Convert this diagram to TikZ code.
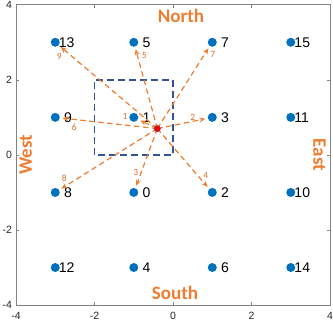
\documentclass[tikz,border=0pt]{standalone}
\usepackage{fontspec}
\setmainfont{Liberation Sans}
\newfontfamily\calib{Carlito}
\usetikzlibrary{arrows.meta}
\definecolor{mblue}{RGB}{0,114,189}
\definecolor{morange}{RGB}{237,125,49}
\definecolor{mdark}{RGB}{47,85,151}
\definecolor{axgray}{RGB}{130,130,130}
\begin{document}
\begin{tikzpicture}[x=39.25pt,y=37.54pt,
 dot/.style={circle,fill=mblue,minimum size=9pt,inner sep=0pt},
 lab/.style={anchor=west,inner sep=0pt,font=\fontsize{14}{14}\selectfont},
 arr/.style={morange,line width=1.2pt,dash pattern=on 5.5pt off 3.5pt,-{Stealth[length=6pt,width=5pt]},shorten >=2.5pt},
 alab/.style={morange!90!black,font=\calib\fontsize{9.5}{9.5}\selectfont,inner sep=0pt},
 dir/.style={morange,font=\calib\bfseries\fontsize{19}{19}\selectfont,inner sep=0pt},
 tlab/.style={font=\fontsize{10.5}{10.5}\selectfont,text=black!85,inner sep=0pt},
 frame/.style={axgray,line width=0.6pt},
 cbox/.style={mdark,line width=1.5pt,dash pattern=on 7pt off 4pt},
 rdot/.style={circle,fill=red,draw=mdark,line width=0.3pt,minimum size=6.5pt,inner sep=0pt}]
\useasboundingbox (-4.408,-4.478) rectangle (4.076,4.126);
% frame and ticks
\draw[frame] (-4,-4) rectangle (4,4);
\foreach \t in {-4,-2,0,2,4}{
  \draw[frame] (\t,-4) -- ++(0,3pt);
  \draw[frame] (\t,4) -- ++(0,-3pt);
  \draw[frame] (-4,\t) -- ++(3pt,0);
  \draw[frame] (4,\t) -- ++(-3pt,0);
  \node[tlab,anchor=north] (xt\t) at (\t,-4.19) {\t};
  \node[tlab,anchor=east] (yt\t) at (-4.10,\t) {\t};
}
% nodes
\foreach \n/\x/\y in {13/-3/3,5/-1/3,7/1/3,15/3/3,9/-3/1,1/-1/1,3/1/1,11/3/1,8/-3/-1,0/-1/-1,2/1/-1,10/3/-1,12/-3/-3,4/-1/-3,6/1/-3,14/3/-3}{
  \node[dot] (n\n) at (\x,\y) {};
  \ifnum\n<10
    \node[lab] (l\n) at ([xshift=8.6pt]n\n.center) {\n};
  \else
    \node[lab] (l\n) at ([xshift=3.5pt]n\n.center) {\n};
  \fi
}
% dashed box
\draw[cbox] (-2,0) rectangle (0,2);
% arrows
\coordinate (rc) at (-0.4,0.7);
\draw[arr] (rc) -- (n1);
\draw[arr] (rc) -- (n3);
\draw[arr] (rc) -- (n0);
\draw[arr] (rc) -- (n2);
\draw[arr] (rc) -- (n5);
\draw[arr] (rc) -- (n9);
\draw[arr] (rc) -- (n7);
\draw[arr] (rc) -- (n8);
\draw[arr] (rc) -- (n13);
\node[rdot] (r) at (rc) {};
% arrow labels
\node[alab] (a1) at (-1.223,1.017) {1};
\node[alab] (a2) at (0.502,1.001) {2};
\node[alab] (a3) at (-0.950,-0.464) {3};
\node[alab] (a4) at (0.833,-0.554) {4};
\node[alab] (a5) at (-0.731,2.635) {5};
\node[alab] (a6) at (-2.515,0.725) {6};
\node[alab] (a7) at (1.011,2.680) {7};
\node[alab] (a8) at (-2.769,-0.623) {8};
\node[alab] (a9) at (-2.896,2.635) {9};
% directions
\node[dir] (north) at (0.204,3.70) {North};
\node[dir] (south) at (0.051,-3.687) {South};
\node[dir,rotate=90] (west) at (-3.75,0) {West};
\node[dir,rotate=-90] (east) at (3.73,0) {East};
\end{tikzpicture}
\end{document}
